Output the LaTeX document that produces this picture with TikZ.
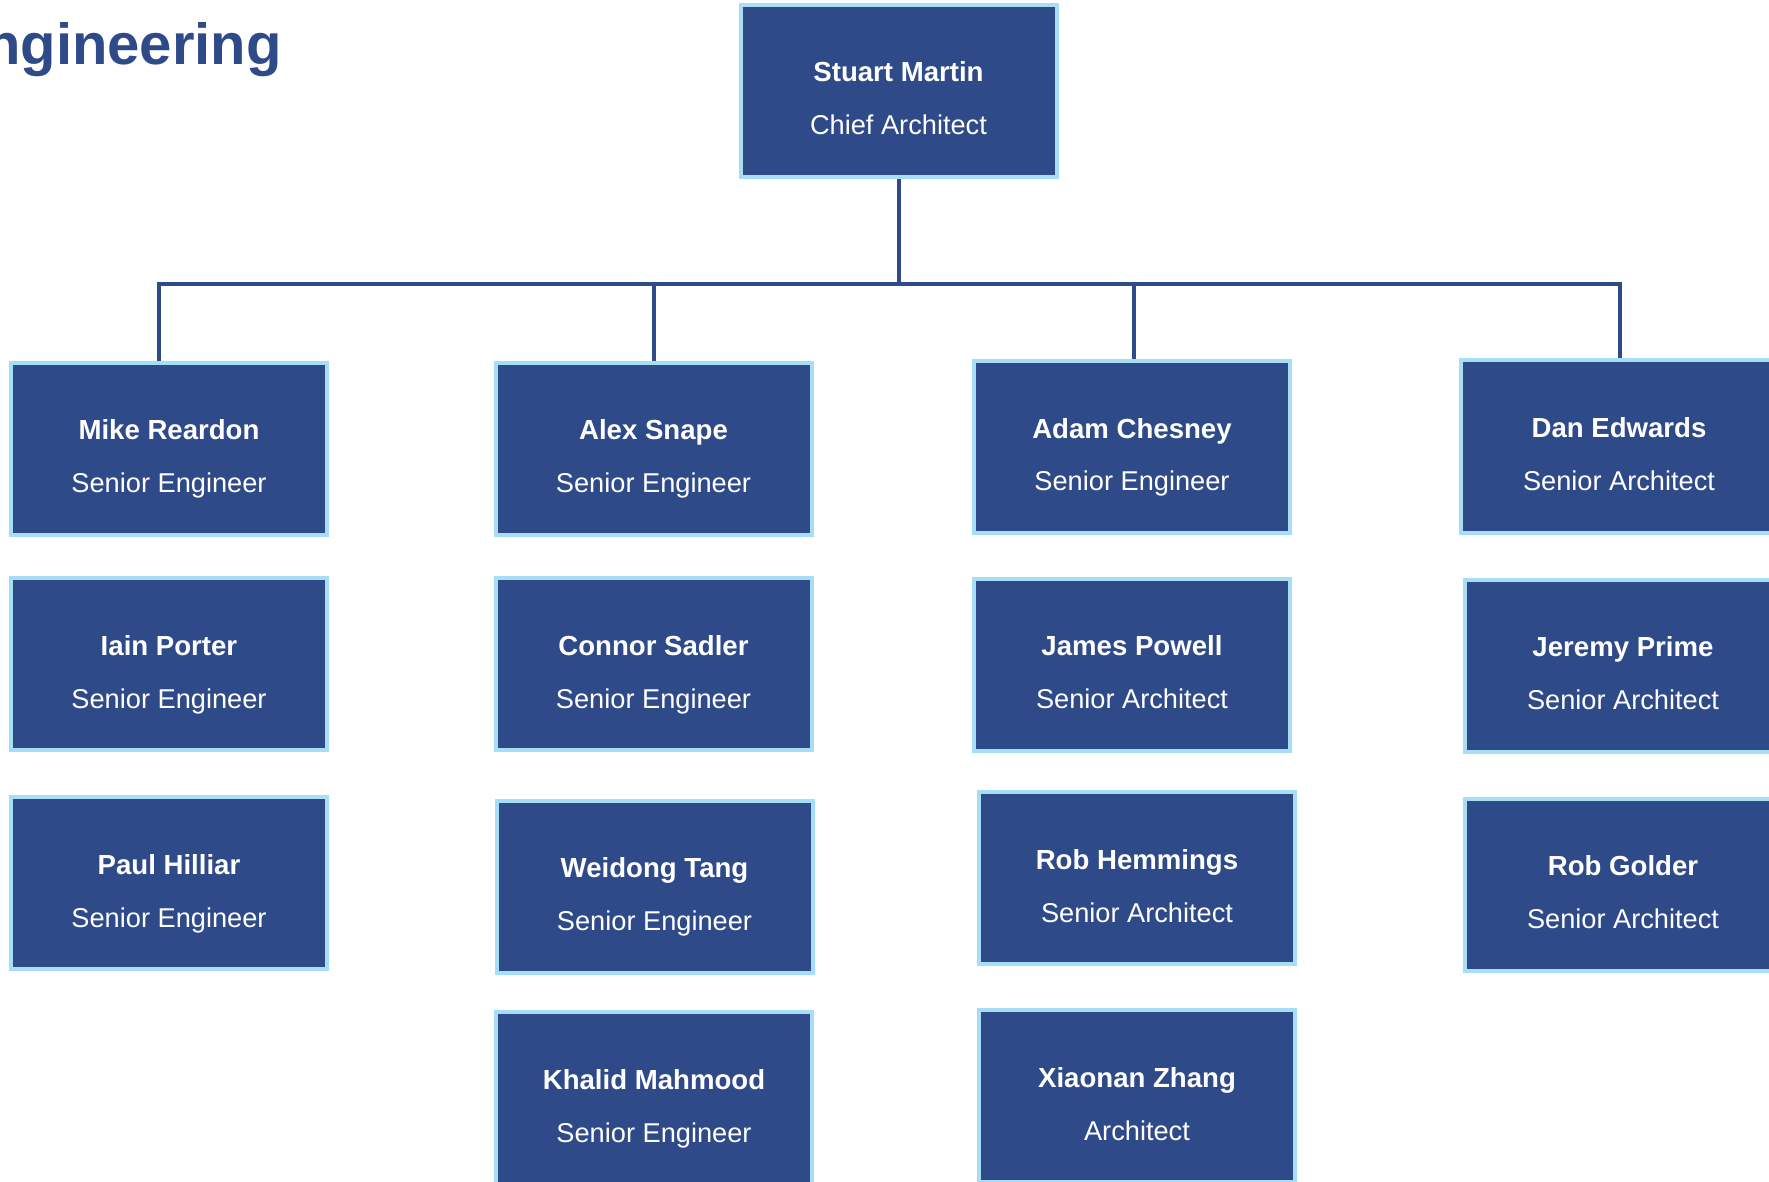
\documentclass[tikz,border=0pt]{standalone}
\usepackage{fontspec}
\setmainfont{Liberation Sans}
\definecolor{boxblue}{RGB}{46,74,137}
\definecolor{edgeblue}{RGB}{166,222,245}
\newcommand\orgperson[5]{%
  \node[person] (#1) at (#2,#3) {};
  \node[pname] (#1-n) at ([yshift=4.5pt]#1.center) {#4};
  \node[ptitle] (#1-t) at ([yshift=-22pt]#1.center) {#5};
}
\begin{document}
\begin{tikzpicture}[x=0.5pt,y=-0.5pt,
  person/.style={rectangle, fill=boxblue, draw=edgeblue, line width=2pt,
    minimum width=158pt, minimum height=86pt, inner sep=0pt},
  pname/.style={anchor=base, text=white, inner sep=0pt,
    font=\fontsize{13.8}{16}\selectfont\bfseries},
  ptitle/.style={anchor=base, text=white, inner sep=0pt,
    font=\fontsize{13.6}{16}\selectfont},
  conn/.style={draw=boxblue, line width=2pt, line join=miter},
]
\useasboundingbox (0,0) rectangle (1769,1182);

\node[anchor=base east, text=boxblue, inner sep=0pt,
  font=\fontsize{29}{34}\selectfont\bfseries] (heading) at (282,65) {Engineering};

\orgperson{sm}{898.5}{91}{Stuart Martin}{Chief Architect}

\orgperson{mr}{169}{449}{Mike Reardon}{Senior Engineer}
\orgperson{ip}{169}{664}{Iain Porter}{Senior Engineer}
\orgperson{ph}{169}{883}{Paul Hilliar}{Senior Engineer}

\orgperson{as}{653.5}{449}{Alex Snape}{Senior Engineer}
\orgperson{cs}{653.5}{664}{Connor Sadler}{Senior Engineer}
\orgperson{wt}{654.5}{886.5}{Weidong Tang}{Senior Engineer}
\orgperson{km}{654}{1098}{Khalid Mahmood}{Senior Engineer}

\orgperson{ac}{1132}{447}{Adam Chesney}{Senior Engineer}
\orgperson{jp}{1132}{664.5}{James Powell}{Senior Architect}
\orgperson{rh}{1137}{878}{Rob Hemmings}{Senior Architect}
\orgperson{xz}{1137}{1096}{Xiaonan Zhang}{Architect}

\orgperson{de}{1619}{446.5}{Dan Edwards}{Senior Architect}
\orgperson{jpr}{1623}{665.5}{Jeremy Prime}{Senior Architect}
\orgperson{rg}{1623}{884.5}{Rob Golder}{Senior Architect}

\coordinate (j1) at (159,284);
\coordinate (j2) at (654,284);
\coordinate (j3) at (1134,284);
\coordinate (j4) at (1620,284);

\draw[conn] (sm.south) -- (sm.south |- j1);
\draw[conn] (j1 |- mr.north) -- (j1) -- (j4) -- (j4 |- de.north);
\draw[conn] (j2) -- (j2 |- as.north);
\draw[conn] (j3) -- (j3 |- ac.north);
\end{tikzpicture}
\end{document}
